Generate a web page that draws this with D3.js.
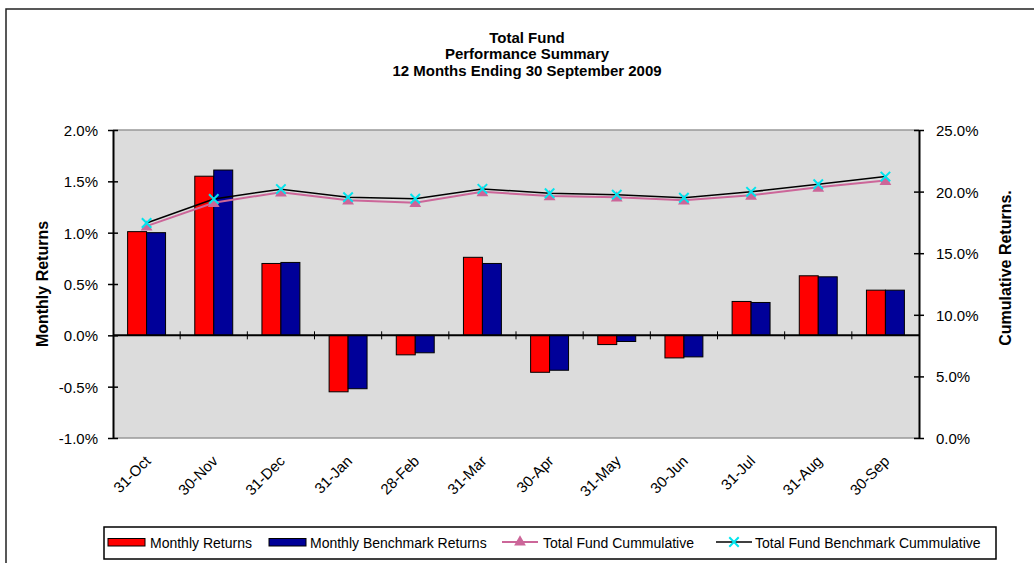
<!DOCTYPE html>
<html>
<head>
<meta charset="utf-8">
<script src="https://cdn.jsdelivr.net/npm/d3@7"></script>
<style>
  body { margin: 0; background: #fff; }
  text { font-family: "Liberation Sans", Arial, sans-serif; fill: #000; }
</style>
</head>
<body>
<div id="chart"></div>
<script>
// chart data
const months = ["31-Oct", "30-Nov", "31-Dec", "31-Jan", "28-Feb", "31-Mar",
                "30-Apr", "31-May", "30-Jun", "31-Jul", "31-Aug", "30-Sep"];
const monthlyReturns = [1.01, 1.55, 0.70, -0.55, -0.19, 0.76, -0.36, -0.09, -0.22, 0.33, 0.58, 0.44];
const benchmarkReturns = [1.00, 1.61, 0.71, -0.52, -0.17, 0.70, -0.34, -0.06, -0.21, 0.32, 0.57, 0.44];
const fundCumulative = [17.2, 19.1, 19.95, 19.3, 19.1, 19.98, 19.65, 19.55, 19.3, 19.7, 20.35, 20.9];
const benchCumulative = [17.45, 19.4, 20.2, 19.55, 19.42, 20.22, 19.87, 19.75, 19.5, 19.98, 20.6, 21.22];
const leftTicks = [-1.0, -0.5, 0.0, 0.5, 1.0, 1.5, 2.0];
const rightTicks = [0, 5, 10, 15, 20, 25];
const titleLines = ["Total Fund", "Performance Summary", "12 Months Ending 30 September 2009"];
const legendItems = ["Monthly Returns", "Monthly Benchmark Returns", "Total Fund Cummulative", "Total Fund Benchmark Cummulative"];

const W = 1034, H = 563;
const plot = {left: 113, right: 919, top: 130, bottom: 438};

const svg = d3.select("#chart").append("svg")
    .attr("width", W).attr("height", H);

svg.append("rect").attr("width", W).attr("height", H).attr("fill", "#fff");

// outer chart frame (runs off the right/bottom edge)
svg.append("rect")
    .attr("x", 6).attr("y", 9).attr("width", W + 20).attr("height", H + 20)
    .attr("fill", "none").attr("stroke", "#222").attr("stroke-width", 1.5);

// title
svg.append("g").selectAll("text").data(titleLines).join("text")
    .attr("x", 527).attr("y", (d, i) => 42.5 + i * 16.7)
    .attr("text-anchor", "middle")
    .style("font-size", "15px").style("font-weight", "bold")
    .text(d => d);

// scales
const x = d3.scaleBand().domain(months).range([plot.left, plot.right]);
const xSub = d3.scaleBand().domain([0, 1]).range([0, x.bandwidth()]).paddingOuter(0.77);
const yL = d3.scaleLinear().domain([-1, 2]).range([plot.bottom, plot.top]);
const yR = d3.scaleLinear().domain([0, 25]).range([plot.bottom, plot.top]);

// plot background
svg.append("rect")
    .attr("x", plot.left).attr("y", plot.top)
    .attr("width", plot.right - plot.left).attr("height", plot.bottom - plot.top)
    .attr("fill", "#dcdcdc");
svg.append("line").attr("x1", plot.left).attr("x2", plot.right)
    .attr("y1", plot.top).attr("y2", plot.top).attr("stroke", "#999").attr("stroke-width", 1.5);
svg.append("line").attr("x1", plot.left).attr("x2", plot.right)
    .attr("y1", plot.bottom).attr("y2", plot.bottom).attr("stroke", "#999").attr("stroke-width", 1.5);

// bars
const series = [
  {vals: monthlyReturns, color: "#ff0000"},
  {vals: benchmarkReturns, color: "#000099"}
];
series.forEach((s, k) => {
  svg.append("g").selectAll("rect").data(s.vals).join("rect")
      .attr("x", (d, i) => x(months[i]) + xSub(k))
      .attr("y", d => yL(Math.max(0, d)))
      .attr("width", xSub.bandwidth())
      .attr("height", d => Math.abs(yL(d) - yL(0)))
      .attr("fill", s.color)
      .attr("stroke", "#000").attr("stroke-width", 1);
});

// category axis on the zero line, with cross ticks at band edges
const xAxis = svg.append("g");
xAxis.append("line").attr("x1", plot.left).attr("x2", plot.right)
    .attr("y1", yL(0)).attr("y2", yL(0)).attr("stroke", "#000").attr("stroke-width", 2);
xAxis.selectAll(".tk").data(months.slice(1)).join("line")
    .attr("x1", d => x(d)).attr("x2", d => x(d))
    .attr("y1", yL(0) - 4).attr("y2", yL(0) + 4)
    .attr("stroke", "#000").attr("stroke-width", 1);

// category labels, rotated, below the plot
svg.append("g").selectAll("text").data(months).join("text")
    .attr("transform", d => `translate(${x(d) + x.bandwidth() / 2 + 5},${plot.bottom + 24}) rotate(-45)`)
    .attr("text-anchor", "end")
    .style("font-size", "15px")
    .text(d => d);

// left axis
const axL = svg.append("g").attr("transform", `translate(${plot.left},0)`)
    .call(d3.axisLeft(yL).tickValues(leftTicks).tickFormat(d => d.toFixed(1) + "%").tickSize(5).tickSizeOuter(0));
axL.select(".domain").attr("stroke", "#000").attr("stroke-width", 2);
axL.selectAll(".tick line").attr("x2", 5).attr("x1", -5).attr("stroke-width", 1.5);
axL.selectAll(".tick text").attr("x", -15).attr("dy", "0.36em")
    .style("font-size", "15px").style("font-family", "Liberation Sans, Arial, sans-serif");

// right axis
const axR = svg.append("g").attr("transform", `translate(${plot.right},0)`)
    .call(d3.axisRight(yR).tickValues(rightTicks).tickFormat(d => d.toFixed(1) + "%").tickSize(5).tickSizeOuter(0));
axR.select(".domain").attr("stroke", "#000").attr("stroke-width", 2);
axR.selectAll(".tick line").attr("x1", -5).attr("x2", 5).attr("stroke-width", 1.5);
axR.selectAll(".tick text").attr("x", 17).attr("dy", "0.36em")
    .style("font-size", "15px").style("font-family", "Liberation Sans, Arial, sans-serif");

// axis titles
svg.append("text")
    .attr("transform", `translate(47.5,${(plot.top + plot.bottom) / 2}) rotate(-90)`)
    .attr("text-anchor", "middle")
    .style("font-size", "16px").style("font-weight", "bold")
    .text("Monthly Returns");
svg.append("text")
    .attr("transform", `translate(1011,268) rotate(-90)`)
    .attr("text-anchor", "middle")
    .style("font-size", "16px").style("font-weight", "bold")
    .text("Cumulative Returns.");

// cumulative lines
const cx = i => x(months[i]) + x.bandwidth() / 2;
const line = d3.line().x((d, i) => cx(i)).y(d => yR(d));

svg.append("path").datum(fundCumulative)
    .attr("d", line).attr("fill", "none")
    .attr("stroke", "#cc6699").attr("stroke-width", 2);
svg.append("path").datum(benchCumulative)
    .attr("d", line).attr("fill", "none")
    .attr("stroke", "#000").attr("stroke-width", 1.5);

const tri = d3.symbol().type(d3.symbolTriangle).size(60);
svg.append("g").selectAll("path").data(fundCumulative).join("path")
    .attr("transform", (d, i) => `translate(${cx(i)},${yR(d) + 1})`)
    .attr("d", tri).attr("fill", "#cc6699");

const cross = d3.symbol().type(d3.symbolX).size(60);
svg.append("g").selectAll("path").data(benchCumulative).join("path")
    .attr("transform", (d, i) => `translate(${cx(i)},${yR(d)})`)
    .attr("d", cross).attr("fill", "none")
    .attr("stroke", "#00e5ee").attr("stroke-width", 2);

// legend
const lg = svg.append("g");
lg.append("rect").attr("x", 104).attr("y", 527).attr("width", 892).attr("height", 32)
    .attr("fill", "#fff").attr("stroke", "#000").attr("stroke-width", 1.5);
const legendX = [108, 269, 502, 716];
const textX = [150, 310, 543, 755];
legendItems.forEach((name, i) => {
  const sx = legendX[i];
  if (i < 2) {
    lg.append("rect").attr("x", sx).attr("y", 538.5).attr("width", 37).attr("height", 7.5)
        .attr("fill", series[i].color).attr("stroke", "#000").attr("stroke-width", 1);
  } else {
    lg.append("line").attr("x1", sx).attr("x2", sx + 36).attr("y1", 542).attr("y2", 542)
        .attr("stroke", i === 2 ? "#cc6699" : "#000").attr("stroke-width", i === 2 ? 2 : 1.5);
    if (i === 2) {
      lg.append("path").attr("transform", `translate(${sx + 18},542)`).attr("d", tri).attr("fill", "#cc6699");
    } else {
      lg.append("path").attr("transform", `translate(${sx + 18},542)`).attr("d", cross)
          .attr("fill", "none").attr("stroke", "#00e5ee").attr("stroke-width", 2);
    }
  }
  lg.append("text").attr("x", textX[i]).attr("y", 547.5)
      .style("font-size", "14px").text(name);
});
</script>
</body>
</html>
